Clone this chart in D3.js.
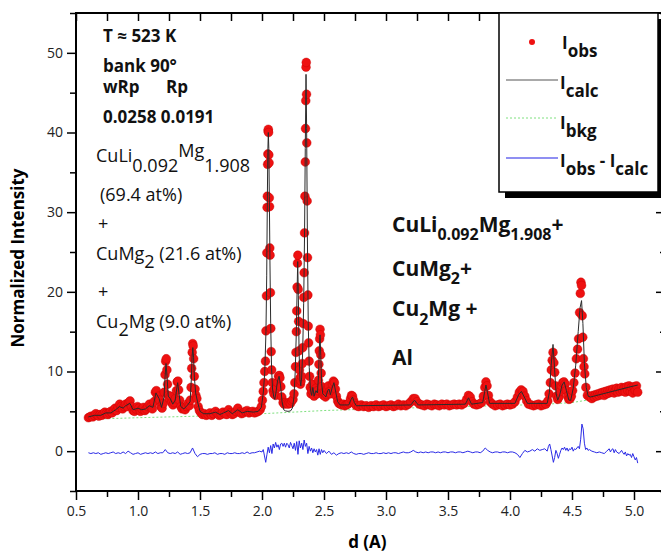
<!DOCTYPE html>
<html>
<head>
<meta charset="utf-8">
<script src="https://cdn.jsdelivr.net/npm/d3@7"></script>
<style>
  body { margin: 0; background: #fff; }
  svg { display: block; font-family: "Open Sans", sans-serif; }
</style>
</head>
<body>
<script>
// observed intensity, [d, I]
var iObs = [
  [0.600,4.2],[0.612,4.3],[0.624,4.4],[0.636,4.3],[0.648,4.5],[0.660,4.7],[0.672,4.5],[0.684,4.4],
  [0.696,4.6],[0.708,4.5],[0.720,4.7],[0.732,4.9],[0.744,4.7],[0.756,4.6],[0.768,4.8],[0.780,5.0],
  [0.792,4.8],[0.804,5.2],[0.816,5.4],[0.828,5.1],[0.840,5.5],[0.852,5.9],[0.864,5.6],[0.876,5.3],
  [0.888,5.6],[0.900,5.9],[0.912,5.6],[0.924,6.1],[0.936,6.3],[0.948,5.6],[0.960,5.1],[0.972,5.0],
  [0.984,5.3],[0.996,5.6],[1.008,5.4],[1.020,5.0],[1.032,5.3],[1.044,5.5],[1.056,5.1],[1.068,5.3],
  [1.080,5.6],[1.092,5.9],[1.104,5.6],[1.116,5.3],[1.128,6.2],[1.140,7.4],[1.148,7.6],[1.156,6.8],
  [1.166,6.9],[1.174,6.4],[1.184,5.6],[1.194,5.4],[1.204,6.0],[1.212,7.4],[1.218,9.6],[1.223,11.3],
  [1.228,11.6],[1.233,10.2],[1.238,8.4],[1.244,7.0],[1.252,6.6],[1.262,6.9],[1.272,6.1],[1.282,5.8],
  [1.292,6.1],[1.302,6.6],[1.310,7.6],[1.316,8.7],[1.322,8.8],[1.328,7.7],[1.336,6.4],[1.346,5.6],
  [1.356,5.3],[1.368,5.5],[1.380,5.2],[1.392,5.6],[1.404,6.0],[1.414,5.7],[1.422,6.4],[1.428,8.0],
  [1.433,10.4],[1.437,12.4],[1.441,13.5],[1.445,13.2],[1.449,11.6],[1.454,9.4],[1.460,7.8],[1.467,7.0],
  [1.475,6.6],[1.485,5.6],[1.495,5.1],[1.508,4.8],[1.520,4.6],[1.535,4.7],[1.550,4.5],[1.565,4.6],
  [1.580,4.8],[1.595,4.5],[1.610,4.7],[1.625,5.0],[1.640,4.7],[1.655,4.5],[1.670,4.6],[1.685,4.9],
  [1.700,4.7],[1.715,4.6],[1.730,5.2],[1.745,4.8],[1.760,4.6],[1.775,4.7],[1.790,5.0],[1.805,5.4],
  [1.820,4.9],[1.835,4.7],[1.850,4.8],[1.865,5.0],[1.880,5.1],[1.895,4.8],[1.910,4.9],[1.925,5.0],
  [1.940,4.8],[1.955,4.9],[1.970,5.0],[1.985,5.2],[1.995,5.6],[2.003,6.4],[2.010,7.5],[2.016,8.6],
  [2.022,10.0],[2.028,11.3],[2.032,15.1],[2.036,19.5],[2.039,24.9],[2.041,30.6],[2.043,32.0],[2.045,36.0],
  [2.047,37.3],[2.049,40.2],[2.051,40.4],[2.053,40.0],[2.055,37.2],[2.057,36.2],[2.059,31.8],[2.061,30.7],
  [2.063,25.5],[2.065,24.6],[2.068,19.9],[2.071,15.4],[2.074,12.5],[2.078,10.2],[2.083,8.6],[2.089,7.6],
  [2.096,7.2],[2.103,7.8],[2.110,7.0],[2.118,7.9],[2.126,8.6],[2.133,9.4],[2.139,9.5],[2.145,9.2],
  [2.152,8.1],[2.160,6.8],[2.170,6.1],[2.180,5.9],[2.190,6.1],[2.200,6.0],[2.210,5.9],[2.220,6.1],
  [2.230,6.0],[2.240,6.3],[2.250,6.5],[2.258,7.2],[2.265,8.6],[2.270,10.6],[2.274,12.4],[2.277,15.0],
  [2.280,17.6],[2.283,20.6],[2.286,23.6],[2.289,24.6],[2.292,20.3],[2.295,16.3],[2.298,12.6],[2.302,10.2],
  [2.306,9.2],[2.310,8.4],[2.315,8.8],[2.320,9.4],[2.325,11.0],[2.329,13.0],[2.333,16.0],[2.337,19.3],
  [2.340,22.4],[2.343,27.4],[2.346,32.0],[2.349,36.3],[2.351,40.5],[2.353,44.0],[2.355,48.2],[2.357,48.8],
  [2.359,44.8],[2.361,38.7],[2.364,31.4],[2.367,24.3],[2.370,19.6],[2.373,15.7],[2.376,13.6],[2.380,11.3],
  [2.384,9.4],[2.389,8.0],[2.395,7.2],[2.402,7.6],[2.408,8.4],[2.414,7.4],[2.420,6.9],[2.428,7.5],
  [2.436,7.9],[2.444,7.2],[2.450,7.6],[2.455,8.9],[2.459,10.9],[2.462,12.6],[2.465,14.1],[2.468,15.3],
  [2.471,14.6],[2.474,12.1],[2.477,9.8],[2.482,8.1],[2.489,7.3],[2.496,7.0],[2.504,7.3],[2.512,6.8],
  [2.520,7.1],[2.528,7.8],[2.536,8.2],[2.544,7.5],[2.552,7.2],[2.560,7.6],[2.568,8.4],[2.576,8.8],
  [2.584,8.6],[2.592,7.8],[2.600,6.9],[2.610,6.3],[2.620,6.0],[2.632,5.9],[2.644,5.8],[2.656,5.9],
  [2.668,5.7],[2.680,5.8],[2.692,5.9],[2.704,6.1],[2.714,6.6],[2.722,7.0],[2.730,6.9],[2.738,6.4],
  [2.748,6.0],[2.760,5.7],[2.780,5.6],[2.800,5.8],[2.820,5.6],[2.840,5.7],[2.860,5.5],[2.880,5.7],
  [2.900,5.6],[2.920,5.8],[2.940,5.6],[2.960,5.7],[2.980,5.8],[3.000,5.6],[3.020,5.7],[3.040,5.8],
  [3.060,5.6],[3.080,5.7],[3.100,5.9],[3.120,5.7],[3.140,5.8],[3.160,5.7],[3.180,5.9],[3.200,6.2],
  [3.220,6.6],[3.235,6.6],[3.250,6.2],[3.270,5.9],[3.290,5.8],[3.310,5.7],[3.330,5.9],[3.350,5.8],
  [3.370,5.7],[3.390,5.9],[3.410,5.8],[3.430,5.7],[3.450,5.9],[3.470,5.8],[3.490,5.9],[3.510,5.7],
  [3.530,5.8],[3.550,5.9],[3.570,5.8],[3.590,5.9],[3.610,5.8],[3.630,6.0],[3.650,6.5],[3.665,7.0],
  [3.680,6.8],[3.695,6.2],[3.710,5.9],[3.730,5.8],[3.750,5.9],[3.770,6.1],[3.785,6.9],[3.797,8.0],
  [3.806,8.7],[3.815,8.2],[3.826,7.0],[3.840,6.2],[3.860,5.9],[3.880,5.7],[3.900,5.8],[3.920,5.9],
  [3.940,5.7],[3.960,5.8],[3.980,5.9],[4.000,5.8],[4.020,5.9],[4.040,6.2],[4.060,6.8],[4.075,7.4],
  [4.090,7.7],[4.105,7.5],[4.120,6.9],[4.135,6.3],[4.150,5.9],[4.170,5.8],[4.190,5.7],[4.210,5.8],
  [4.230,5.9],[4.250,5.7],[4.270,5.8],[4.290,5.9],[4.305,6.3],[4.315,7.2],[4.325,8.6],[4.333,10.2],
  [4.340,11.4],[4.347,12.4],[4.354,11.1],[4.361,9.9],[4.368,8.2],[4.376,6.9],[4.385,6.5],[4.395,6.8],
  [4.405,7.5],[4.415,8.2],[4.425,8.6],[4.435,8.7],[4.445,8.4],[4.455,7.6],[4.465,6.9],[4.475,6.5],
  [4.485,6.6],[4.495,6.9],[4.505,7.6],[4.515,8.6],[4.525,9.8],[4.535,11.6],[4.545,12.8],[4.553,14.1],
  [4.561,17.4],[4.567,19.8],[4.572,21.2],[4.577,20.8],[4.582,17.0],[4.587,14.3],[4.592,11.6],[4.597,10.6],
  [4.603,9.7],[4.612,8.0],[4.624,7.0],[4.640,6.8],[4.650,6.9],[4.660,6.6],[4.670,7.0],[4.680,6.8],
  [4.690,7.1],[4.700,6.9],[4.710,7.2],[4.720,7.0],[4.730,7.3],[4.740,7.1],[4.750,7.4],[4.760,7.0],
  [4.770,7.5],[4.780,7.2],[4.790,7.6],[4.800,7.3],[4.810,7.7],[4.820,7.4],[4.830,7.8],[4.840,7.3],
  [4.850,7.6],[4.860,7.9],[4.870,7.4],[4.880,7.8],[4.890,7.5],[4.900,8.0],[4.910,7.6],[4.920,7.9],
  [4.930,7.4],[4.940,8.1],[4.950,7.6],[4.960,8.2],[4.970,7.5],[4.980,8.0],[4.990,7.3],[5.000,8.1],
  [5.010,7.6],[5.020,8.2],[5.030,7.4]
];

// calculated profile, [d, I]
var iCalc = [
  [0.60,4.3],[0.65,4.5],[0.70,4.5],[0.74,4.8],[0.78,4.8],[0.82,5.2],[0.85,5.6],[0.88,5.4],[0.90,5.7],
  [0.935,6.0],[0.96,5.2],[1.00,5.4],[1.03,5.2],[1.06,5.3],[1.09,5.7],[1.12,5.5],[1.145,7.3],[1.17,6.6],
  [1.19,5.5],[1.21,6.8],[1.218,9.3],[1.226,11.0],[1.234,9.4],[1.244,6.9],[1.26,6.6],[1.28,5.9],[1.30,6.4],
  [1.312,7.8],[1.32,8.6],[1.33,7.3],[1.345,5.6],[1.37,5.3],[1.40,5.8],[1.42,6.2],[1.43,9.0],[1.436,11.8],
  [1.442,13.0],[1.448,11.8],[1.455,9.2],[1.465,7.3],[1.48,6.2],[1.50,5.0],[1.53,4.7],[1.58,4.7],[1.625,4.9],
  [1.66,4.6],[1.69,4.8],[1.73,5.1],[1.76,4.7],[1.805,5.2],[1.84,4.8],[1.88,5.0],[1.93,4.9],[1.97,5.0],
  [1.995,5.5],[2.010,7.3],[2.022,9.8],[2.032,15.0],[2.038,22.0],[2.043,31.5],[2.047,37.5],[2.051,40.0],
  [2.055,38.0],[2.059,32.0],[2.064,24.0],[2.070,16.0],[2.077,10.5],[2.085,7.8],[2.095,6.8],[2.103,6.5],
  [2.112,7.3],[2.125,8.8],[2.138,9.4],[2.150,8.2],[2.162,6.2],[2.175,5.2],[2.19,5.05],[2.21,5.0],[2.23,5.05],
  [2.245,5.4],[2.258,6.8],[2.268,10.0],[2.276,14.5],[2.283,20.0],[2.288,23.8],[2.293,19.5],[2.299,12.5],
  [2.306,9.0],[2.313,8.2],[2.320,9.3],[2.328,12.5],[2.336,18.5],[2.343,27.0],[2.349,38.0],[2.355,47.3],
  [2.360,40.5],[2.366,27.0],[2.373,16.0],[2.381,10.5],[2.39,7.8],[2.40,7.0],[2.41,8.0],[2.42,6.9],
  [2.435,7.6],[2.447,7.3],[2.456,9.5],[2.463,13.2],[2.468,14.6],[2.474,12.0],[2.481,8.5],[2.49,7.2],
  [2.505,7.0],[2.515,6.8],[2.53,7.6],[2.54,7.8],[2.552,7.1],[2.565,7.9],[2.58,8.6],[2.595,7.4],[2.61,6.2],
  [2.63,5.8],[2.70,5.8],[2.715,6.4],[2.73,6.8],[2.745,6.1],[2.76,5.7],[3.20,5.8],[3.23,6.4],[3.26,5.8],
  [3.64,5.9],[3.665,6.7],[3.69,5.9],[3.78,6.1],[3.795,7.4],[3.806,8.3],[3.818,7.4],[3.835,6.0],[4.04,6.0],
  [4.07,7.1],[4.092,7.5],[4.115,6.8],[4.14,6.0],[4.30,6.0],[4.318,7.4],[4.332,10.8],[4.347,13.4],[4.36,10.2],
  [4.372,7.2],[4.385,6.4],[4.40,7.0],[4.42,8.3],[4.437,8.7],[4.455,7.6],[4.475,6.4],[4.49,6.4],[4.51,7.9],
  [4.53,10.8],[4.55,15.0],[4.565,18.0],[4.577,18.9],[4.588,16.0],[4.60,11.0],[4.615,8.0],[4.63,6.9],
  [4.65,6.8],[4.75,7.2],[4.85,7.6],[4.95,8.0],[5.03,8.3]
];

// background, [d, I]
var iBkg = [
  [0.60,4.0],[1.00,4.2],[1.50,4.4],[2.00,4.7],[2.50,5.1],[3.00,5.35],[3.50,5.55],[4.00,5.75],
  [4.30,5.9],[4.50,6.1],[4.70,6.6],[4.85,7.1],[5.03,7.8]
];

// difference curve Iobs - Icalc, [d, I]
var iDiff = [
  [0.60,-0.2],[0.62,-0.3],[0.64,-0.2],[0.66,-0.3],[0.68,-0.2],[0.70,-0.4],[0.72,-0.3],[0.74,-0.2],
  [0.76,-0.3],[0.78,-0.2],[0.80,-0.1],[0.82,-0.3],[0.84,-0.2],[0.86,-0.3],[0.88,-0.1],[0.90,-0.3],
  [0.92,0.0],[0.94,-0.2],[0.96,-0.4],[0.98,-0.3],[1.00,-0.2],[1.02,-0.4],[1.04,-0.3],[1.06,-0.2],
  [1.08,-0.3],[1.10,-0.2],[1.12,-0.3],[1.14,-0.1],[1.16,-0.3],[1.18,-0.2],[1.20,-0.2],[1.22,0.2],
  [1.24,-0.2],[1.26,-0.3],[1.28,-0.2],[1.30,-0.3],[1.32,-0.1],[1.34,-0.4],[1.36,-0.3],[1.38,-0.2],
  [1.40,-0.3],[1.42,-0.2],[1.44,0.4],[1.46,-0.3],[1.48,-0.7],[1.50,-0.4],[1.52,-0.3],[1.54,-0.3],
  [1.56,-0.4],[1.58,-0.3],[1.60,-0.3],[1.62,-0.2],[1.64,-0.4],[1.66,-0.3],[1.68,-0.3],[1.70,-0.4],
  [1.72,-0.2],[1.74,-0.3],[1.76,-0.3],[1.78,-0.2],[1.80,-0.3],[1.82,-0.3],[1.84,-0.2],[1.86,-0.3],
  [1.88,-0.1],[1.90,-0.3],[1.92,-0.2],[1.94,-0.2],[1.96,-0.1],[1.98,0.0],[2.00,-0.1],[2.01,0.2],
  [2.02,-0.6],[2.03,-1.4],[2.04,-0.4],[2.05,0.5],[2.06,-0.2],[2.07,0.7],[2.08,-0.3],[2.09,0.9],
  [2.10,0.4],[2.11,1.1],[2.12,0.5],[2.13,0.8],[2.14,0.2],[2.15,0.9],[2.16,1.0],[2.17,0.6],[2.18,1.0],
  [2.19,0.5],[2.20,1.0],[2.21,0.8],[2.22,0.4],[2.23,1.1],[2.24,0.7],[2.25,0.3],[2.26,1.0],[2.27,0.1],
  [2.28,1.2],[2.29,-0.4],[2.30,1.3],[2.31,0.4],[2.32,1.0],[2.33,0.2],[2.34,1.4],[2.35,0.6],[2.36,1.0],
  [2.37,-0.3],[2.38,0.6],[2.39,0.0],[2.40,0.4],[2.41,-0.2],[2.42,0.3],[2.43,-0.1],[2.44,0.2],[2.45,-0.5],
  [2.46,0.3],[2.47,-0.4],[2.48,0.2],[2.49,-0.2],[2.50,0.1],[2.52,-0.3],[2.54,0.0],[2.56,-0.4],[2.58,-0.2],
  [2.60,-0.5],[2.62,-0.3],[2.64,-0.2],[2.66,-0.3],[2.68,-0.2],[2.70,-0.3],[2.72,-0.1],[2.74,-0.3],
  [2.76,-0.4],[2.78,-0.3],[2.80,-0.3],[2.82,-0.4],[2.84,-0.3],[2.86,-0.2],[2.88,-0.3],[2.90,-0.3],
  [2.92,-0.2],[2.94,-0.3],[2.96,-0.3],[2.98,-0.2],[3.00,-0.3],[3.02,-0.2],[3.04,-0.3],[3.06,-0.2],
  [3.08,-0.2],[3.10,-0.3],[3.12,-0.2],[3.14,-0.1],[3.16,-0.2],[3.18,-0.2],[3.20,-0.1],[3.22,0.1],
  [3.24,-0.1],[3.26,-0.2],[3.28,-0.1],[3.30,-0.2],[3.32,-0.1],[3.34,-0.2],[3.36,-0.1],[3.38,-0.1],
  [3.40,-0.2],[3.42,-0.1],[3.44,-0.2],[3.46,-0.1],[3.48,-0.1],[3.50,-0.2],[3.52,-0.1],[3.54,-0.1],
  [3.56,-0.2],[3.58,-0.1],[3.60,-0.1],[3.62,-0.2],[3.64,-0.1],[3.66,0.0],[3.68,-0.1],[3.70,-0.2],
  [3.72,-0.1],[3.74,-0.1],[3.76,-0.2],[3.78,0.0],[3.80,0.4],[3.82,0.1],[3.84,-0.1],[3.86,-0.2],
  [3.88,-0.1],[3.90,-0.1],[3.92,-0.2],[3.94,-0.1],[3.96,-0.1],[3.98,-0.2],[4.00,-0.1],[4.02,-0.1],
  [4.04,-0.2],[4.06,-0.4],[4.08,-0.8],[4.10,-0.3],[4.12,0.1],[4.14,-0.1],[4.16,0.0],[4.18,0.2],
  [4.20,0.0],[4.22,0.3],[4.24,0.1],[4.26,0.2],[4.28,0.3],[4.30,0.0],[4.31,0.6],[4.32,0.9],[4.33,0.2],
  [4.34,-0.6],[4.35,-1.4],[4.36,-0.8],[4.37,0.1],[4.38,-0.3],[4.39,-0.9],[4.40,-0.4],[4.41,0.1],
  [4.42,0.4],[4.43,0.2],[4.44,0.5],[4.45,0.1],[4.46,0.4],[4.47,0.0],[4.48,0.3],[4.49,0.2],[4.50,0.5],
  [4.51,0.0],[4.52,0.3],[4.53,0.2],[4.54,0.4],[4.55,0.6],[4.56,0.3],[4.57,1.5],[4.58,3.4],[4.59,2.8],
  [4.60,1.0],[4.61,0.2],[4.62,0.4],[4.63,0.1],[4.64,0.2],[4.66,0.0],[4.68,-0.1],[4.70,-0.2],[4.72,-0.1],
  [4.74,-0.2],[4.76,-0.3],[4.78,0.0],[4.80,0.3],[4.81,-0.1],[4.82,0.2],[4.83,0.3],[4.84,-0.2],[4.85,0.2],
  [4.86,-0.1],[4.88,-0.3],[4.90,0.1],[4.91,-0.2],[4.92,-0.4],[4.93,-0.1],[4.94,-0.6],[4.95,-0.3],
  [4.96,-0.5],[4.97,-0.4],[4.98,-0.8],[4.99,-0.3],[5.00,-0.7],[5.01,-1.1],[5.02,-0.8],[5.03,-1.5]
];

// tick values
var xMajorTicks = [0.5, 1.0, 1.5, 2.0, 2.5, 3.0, 3.5, 4.0, 4.5, 5.0];
var xMinorTicks = [0.75, 1.25, 1.75, 2.25, 2.75, 3.25, 3.75, 4.25, 4.75, 5.25];
var yMajorTicks = [0, 10, 20, 30, 40, 50];
var yMinorTicks = [-5, 5, 15, 25, 35, 45, 55];

var svgWidth = 661;
var svgHeight = 553;

var margin = { top: 13, right: -4, bottom: 62, left: 76 };
var width = svgWidth - margin.left - margin.right;
var height = svgHeight - margin.top - margin.bottom;

var svg = d3.select("body")
  .append("svg")
  .attr("width", svgWidth)
  .attr("height", svgHeight);

var chartGroup = svg.append("g")
  .attr("transform", `translate(${margin.left}, ${margin.top})`);

var xScale = d3.scaleLinear().domain([0.5, 5.25]).range([0, width]);
var yScale = d3.scaleLinear().domain([-5, 55]).range([height, 0]);

var lineOf = d3.line()
  .x(d => xScale(d[0]))
  .y(d => yScale(d[1]));

// difference curve
chartGroup.append("path")
  .datum(iDiff)
  .attr("d", lineOf)
  .attr("fill", "none")
  .attr("stroke", "#2a2ae6")
  .attr("stroke-width", 1);

// background
chartGroup.append("path")
  .datum(iBkg)
  .attr("d", lineOf)
  .attr("fill", "none")
  .attr("stroke", "#7ee07e")
  .attr("stroke-width", 1)
  .attr("stroke-dasharray", "2,2");

// observed points
chartGroup.selectAll("circle.obs")
  .data(iObs)
  .enter()
  .append("circle")
  .attr("class", "obs")
  .attr("cx", d => xScale(d[0]))
  .attr("cy", d => yScale(d[1]))
  .attr("r", 4.4)
  .attr("fill", "#ee1111")
  .attr("stroke", "#c40000")
  .attr("stroke-width", 0.4);

// calculated line on top
chartGroup.append("path")
  .datum(iCalc)
  .attr("d", lineOf)
  .attr("fill", "none")
  .attr("stroke", "#2b2b2b")
  .attr("stroke-width", 1);

// axes
function styleAxis(g) {
  g.select(".domain").remove();
  g.selectAll(".tick line").attr("stroke", "#000").attr("stroke-width", 1.5);
  g.selectAll(".tick text")
    .attr("fill", "#222")
    .style("font-size", "14px")
    .style("font-family", "'Open Sans', sans-serif");
}

chartGroup.append("g")
  .attr("transform", `translate(0, ${height})`)
  .call(d3.axisBottom(xScale).tickValues(xMajorTicks).tickSize(9).tickPadding(6).tickFormat(d3.format(".1f")))
  .call(styleAxis);

chartGroup.append("g")
  .attr("transform", `translate(0, ${height})`)
  .call(d3.axisBottom(xScale).tickValues(xMinorTicks).tickSize(6).tickFormat(""))
  .call(styleAxis);

chartGroup.append("g")
  .call(d3.axisTop(xScale).tickValues(xMajorTicks.concat(xMinorTicks)).tickSize(-8).tickFormat(""))
  .call(styleAxis);

chartGroup.append("g")
  .call(d3.axisLeft(yScale).tickValues(yMajorTicks).tickSize(9).tickPadding(4))
  .call(styleAxis);

chartGroup.append("g")
  .call(d3.axisLeft(yScale).tickValues(yMinorTicks).tickSize(6).tickFormat(""))
  .call(styleAxis);

chartGroup.append("g")
  .attr("transform", `translate(${width}, 0)`)
  .call(d3.axisRight(yScale).tickValues(yMajorTicks).tickSize(-9).tickFormat(""))
  .call(styleAxis);

chartGroup.append("g")
  .attr("transform", `translate(${width}, 0)`)
  .call(d3.axisRight(yScale).tickValues(yMinorTicks).tickSize(-5).tickFormat(""))
  .call(styleAxis);

// frame
chartGroup.append("rect")
  .attr("width", width)
  .attr("height", height)
  .attr("fill", "none")
  .attr("stroke", "#000")
  .attr("stroke-width", 2);

// axis titles
svg.append("text")
  .attr("transform", "translate(24, 258) rotate(-90)")
  .attr("text-anchor", "middle")
  .style("font-size", "17px")
  .style("font-weight", "bold")
  .text("Normalized Intensity");

svg.append("text")
  .attr("x", margin.left + xScale(2.85))
  .attr("y", 548)
  .attr("text-anchor", "middle")
  .style("font-size", "17px")
  .style("font-weight", "bold")
  .text("d (A)");

// rich text helper: parts are [string, baseline y, font size]
function richText(x, parts, weight) {
  var t = svg.append("text")
    .attr("x", x)
    .style("font-weight", weight)
    .attr("fill", "#111");
  parts.forEach(function(p) {
    t.append("tspan")
      .attr("y", p[1])
      .style("font-size", p[2] + "px")
      .text(p[0]);
  });
  return t;
}

// left annotation block
richText(103, [["T \u2248 523 K", 42, 17]], "bold");
richText(103, [["bank 90\u00b0", 72, 17]], "bold");
richText(103, [["wRp", 93, 17]], "bold");
richText(166, [["Rp", 93, 17]], "bold");
richText(103, [["0.0258 0.0191", 123, 17]], "bold");

richText(96, [["CuLi", 162, 18], ["0.092", 172, 18], ["Mg", 157, 18], ["1.908", 172, 18]], "normal");
richText(100, [["(69.4 at%)", 201, 18]], "normal");
richText(98, [["+", 230, 18]], "normal");
richText(96, [["CuMg", 260, 18], ["2", 268, 18], [" (21.6 at%)", 260, 18]], "normal");
richText(98, [["+", 298, 18]], "normal");
richText(96, [["Cu", 328, 18], ["2", 336, 18], ["Mg  (9.0 at%)", 328, 18]], "normal");

// right annotation block
richText(392, [["CuLi", 232, 21], ["0.092", 240, 16], ["Mg", 232, 21], ["1.908", 240, 16], ["+", 232, 21]], "bold");
richText(392, [["CuMg", 276, 21], ["2", 284, 16], ["+", 276, 21]], "bold");
richText(392, [["Cu", 316, 21], ["2", 325, 16], ["Mg +", 316, 21]], "bold");
richText(392, [["Al", 365, 21]], "bold");

// legend
var legend = svg.append("g");

legend.append("rect")
  .attr("x", 505).attr("y", 19)
  .attr("width", 159).attr("height", 179)
  .attr("fill", "#000");

legend.append("rect")
  .attr("x", 499).attr("y", 13)
  .attr("width", 159).attr("height", 179)
  .attr("fill", "#fff")
  .attr("stroke", "#000")
  .attr("stroke-width", 1.5);

legend.append("circle")
  .attr("cx", 532).attr("cy", 42).attr("r", 3)
  .attr("fill", "#ee1111");

legend.append("line")
  .attr("x1", 506).attr("x2", 558).attr("y1", 80).attr("y2", 80)
  .attr("stroke", "#555").attr("stroke-width", 1);

legend.append("line")
  .attr("x1", 506).attr("x2", 558).attr("y1", 118).attr("y2", 118)
  .attr("stroke", "#7ee07e").attr("stroke-width", 1).attr("stroke-dasharray", "2,2");

legend.append("line")
  .attr("x1", 506).attr("x2", 558).attr("y1", 158).attr("y2", 158)
  .attr("stroke", "#6a6aee").attr("stroke-width", 1.5);

richText(562, [["I", 49, 17], ["obs", 57, 17]], "bold");
richText(560, [["I", 89, 17], ["calc", 97, 17]], "bold");
richText(560, [["I", 129, 17], ["bkg", 137, 17]], "bold");
richText(560, [["I", 167, 17], ["obs", 175, 17], [" - ", 167, 17], ["I", 167, 17], ["calc", 175, 17]], "bold");
</script>
</body>
</html>
